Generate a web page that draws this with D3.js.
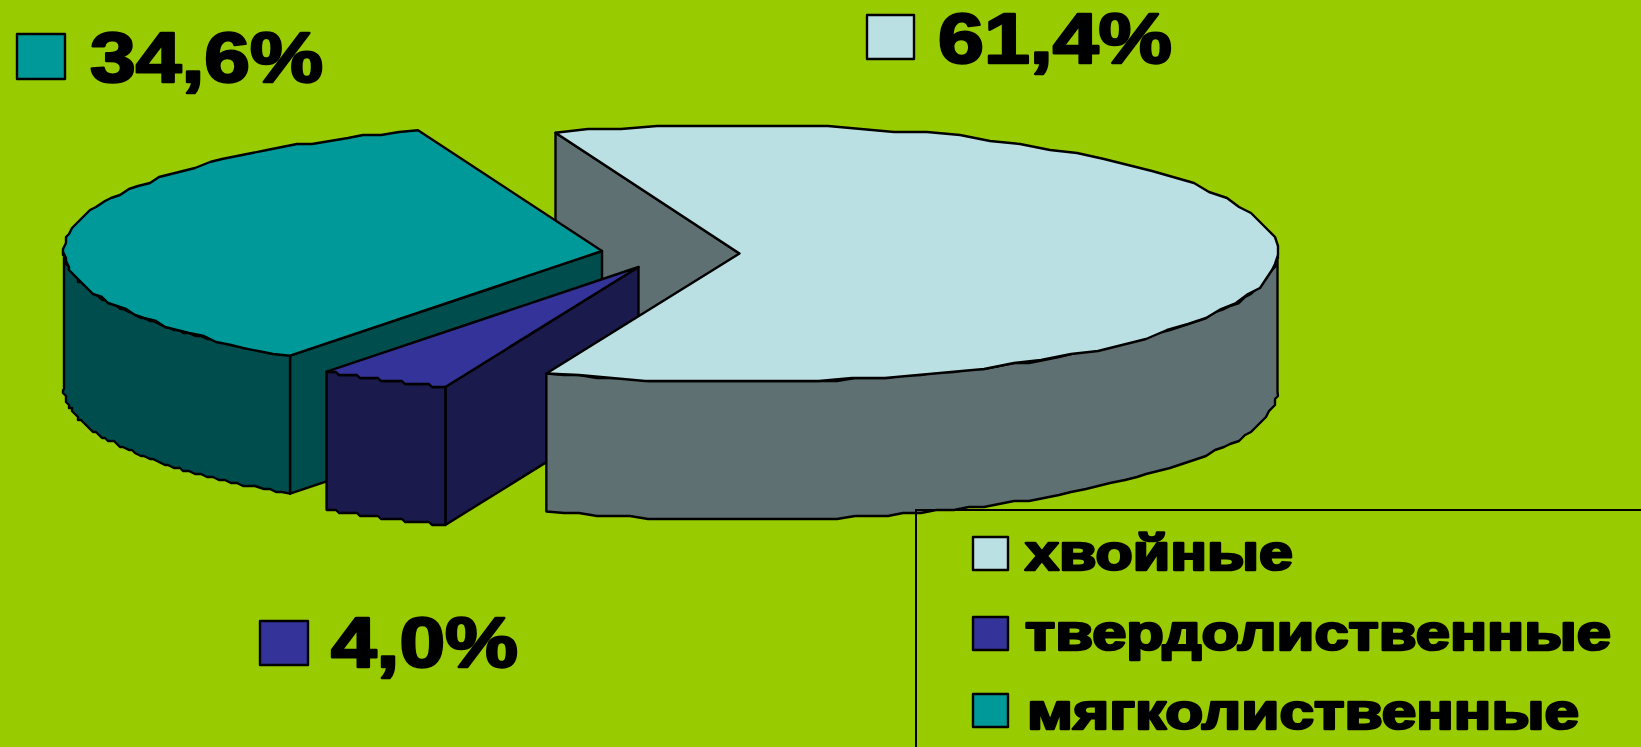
<!DOCTYPE html>
<html><head><meta charset="utf-8">
<script src="https://cdn.jsdelivr.net/npm/d3@7/dist/d3.min.js"></script>
<style>html,body{margin:0;padding:0;background:#99CC00;overflow:hidden}svg{display:block}</style>
</head><body><svg id="c" width="1641" height="747"></svg>
<script>
const categories = ["хвойные","твердолиственные","мягколиственные"];
const values = [61.4,4.0,34.6];
const valueLabels = ["61,4%","4,0%","34,6%"];
const topColors = ["#BBE0E3","#333399","#009999"];
const sideColors = ["#5F7072","#1A1A4D","#004D4D"];

// layout
const W=1641,H=747,RX=538,RY=128.5,DEPTH=138,GRID=3;
const centres=[[739.5,253.5],[638.5,267],[602,251]];
const svg=d3.select("#c");
svg.append("rect").attr("width",W).attr("height",H).attr("fill","#99CC00");

const arcs=d3.pie().sort(null).value(d=>d)
  .startAngle(-20*Math.PI/180).endAngle(340*Math.PI/180)(values);
const sx=d3.scaleLinear().domain([-1,1]).range([-RX,RX]);
const sy=d3.scaleLinear().domain([-1,1]).range([-RY,RY]);
const pt=(i,a,dz=0)=>[centres[i][0]+sx(Math.sin(a)),centres[i][1]+sy(-Math.cos(a))+dz];
const q=v=>Math.round(v/GRID)*GRID;
// the outline of the original is stepped, so interior arc points snap to a coarse grid
const samples=(i,a0,a1,dz=0)=>d3.range(0,61).map(k=>{
  const p=pt(i,a0+(a1-a0)*k/60,dz);
  return (k==0||k==60)?p:[q(p[0]),q(p[1])];
});
const line=d3.line();
const stroke=(s,fill)=>s.attr("fill",fill).attr("stroke","#000").attr("stroke-width",2.4).attr("stroke-linejoin","round");
const poly=(pts,fill)=>stroke(svg.append("path").attr("d",line(pts)+"Z"),fill);
const centre=(i,dz=0)=>[centres[i][0],centres[i][1]+dz];
const topFace=i=>{const a=arcs[i];poly([centre(i),...samples(i,a.startAngle,a.endAngle)],topColors[i]);};
const side=(i,a0,a1)=>poly([...samples(i,a0,a1),...samples(i,a0,a1,DEPTH).reverse()],sideColors[i]);
const cut=(i,a)=>poly([centre(i),pt(i,a),pt(i,a,DEPTH),centre(i,DEPTH)],sideColors[i]);

// back wall of the large slice
cut(0,arcs[0].startAngle);
// soft-leaved slice
cut(2,arcs[2].startAngle);
side(2,arcs[2].startAngle,Math.PI*1.5);
topFace(2);
// hard-leaved slice
cut(1,arcs[1].startAngle);
side(1,arcs[1].startAngle,arcs[1].endAngle);
topFace(1);
// conifer slice
side(0,Math.PI/2,arcs[0].endAngle);
topFace(0);

// legend frame
svg.append("path").attr("d","M916,747V510H1641").attr("fill","none").attr("stroke","#000").attr("stroke-width",2);

const label=(txt,x,base,size,len,sw)=>svg.append("text").text(txt).attr("x",x).attr("y",base)
  .attr("font-family","'Liberation Sans',Arial,sans-serif").attr("font-weight",700)
  .attr("font-size",size).attr("textLength",len).attr("lengthAdjust","spacingAndGlyphs")
  .attr("fill","#000").attr("stroke","#000").attr("stroke-width",sw).attr("stroke-linejoin","round");
const swatch=(x,y,w,h,fill)=>stroke(svg.append("rect").attr("x",x).attr("y",y).attr("width",w).attr("height",h),fill);

// legend
const legY=[537,617,694], legBase=[570,650,729], legX=[1025,1025,1027], legLen=[268,586,552];
categories.forEach((c,i)=>{
  swatch(973,legY[i],35,33,topColors[i]);
  label(c,legX[i],legBase[i],50,legLen[i],2.5);
});
// value labels
const valBox=[[867,15,47,44],[260,621,48,44],[17,34,48,45]];
const valText=[[938,63,234],[331,667,187],[90,82,233]];
valueLabels.forEach((v,i)=>{
  swatch(...valBox[i],topColors[i]);
  label(v,valText[i][0],valText[i][1],71,valText[i][2],2.5);
});
</script></body></html>
